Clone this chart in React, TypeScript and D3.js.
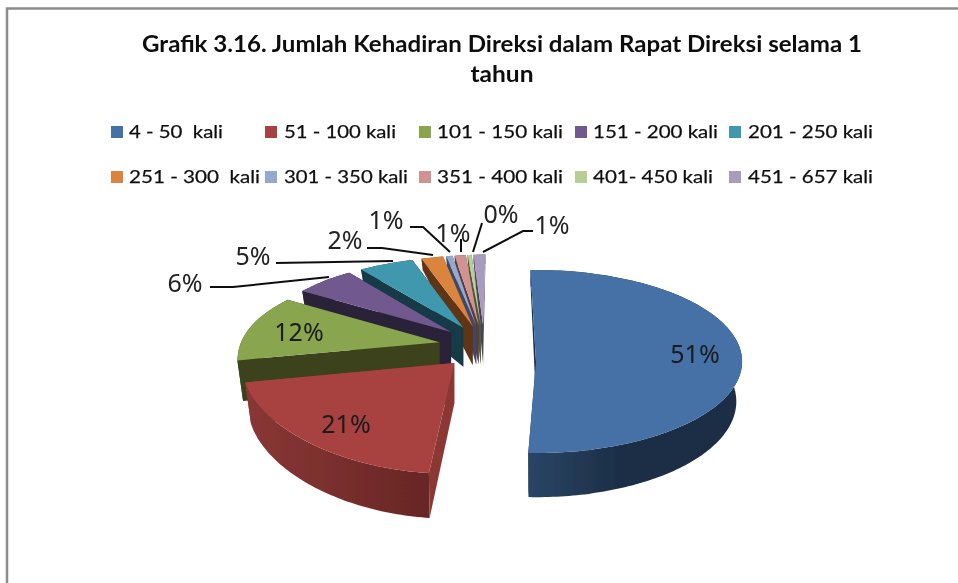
import React from "react";
import * as d3 from "d3";

const categories = ["4 - 50  kali", "51 - 100 kali", "101 - 150 kali", "151 - 200 kali", "201 - 250 kali", "251 - 300  kali", "301 - 350 kali", "351 - 400 kali", "401- 450 kali", "451 - 657 kali"];
const shares = [51, 21.3, 11.7, 5.7, 5, 2, 0.6, 1.1, 0.4, 1.2];
const faceColors = ["#4571a7", "#a84341", "#89a54d", "#71588f", "#4198af", "#db843d", "#93a9cf", "#d19392", "#b9cd96", "#a99bbd"];
const wallColors = ["#1b2e47", "#8b3836", "#3a421f", "#2c2239", "#153a46", "#5e3515", "#3d4a66", "#5c3a39", "#4e5a34", "#4a3f5c"];
const rimLight = ["#2a4565", "#8a3735", "#3f4a22", "#3f3256", "#1f5361", "#8a4f1f", "#4f6080", "#7a4a49", "#6c7a49", "#5f5078"];
const rimDark = ["#1b2d45", "#682625", "#3a421f", "#2c2239", "#153a46", "#5e3515", "#3d4a66", "#5c3a39", "#4e5a34", "#4a3f5c"];
const title = ["Grafik 3.16. Jumlah Kehadiran Direksi dalam Rapat Direksi selama 1", "tahun"];

const legendSwatchX = [111, 265, 419, 575, 729];
const legendTextX = [129, 284, 437, 593, 748];
const legendTextW = [94, 112, 126, 125, 125, 131, 124, 126, 120, 125];
const startTrimDeg = [0, 4.2, 0, 0, 0, 0, 0, 0, 0, 0];

const C = { x: 486, y: 346, R: 210, ry: 91.5, k: 0.155, explode: 0.238, blueY: 361.5, blueRight: 0.985, wallShrink: 0.972 };
const depth = d3.scaleLinear().domain([-1.25, -0.25, 1.2]).range([9, 39, 45]).clamp(true);
const xScaleLeft = d3.scaleLinear().domain([-1.25, -1.15, -1, -0.7, 0.1, 0.37, 1.2]).range([0.74, 0.8, 0.83, 0.85, 0.965, 1.01, 1.03]).clamp(true);
const xShift = d3.scaleLinear().domain([-1.25, -0.3]).range([6, 0]).clamp(true);

const project = (u: number, v: number, i: number) => {
  const fx = u < 0 ? xScaleLeft(v) : i === 0 ? (Math.abs(u) > 0.5 ? C.blueRight : 1) : xScaleLeft(v);
  return {
    x: C.x + C.R * u * fx + (i === 0 ? 0 : xShift(v)),
    y: i === 0 ? C.blueY + C.ry * v : C.y + C.ry * v * (1 + C.k * v),
    d: depth(v),
  };
};

const arcs = d3.pie<number>().sort(null).startAngle((-1.5 * Math.PI) / 180).endAngle((358.5 * Math.PI) / 180)(shares);

function slicePts(a: (typeof arcs)[number], i: number) {
  const mid = (a.startAngle + a.endAngle) / 2;
  const ou = C.explode * Math.sin(mid);
  const ov = -C.explode * Math.cos(mid);
  const s = a.startAngle + (startTrimDeg[i] * Math.PI) / 180;
  const n = Math.max(2, Math.ceil((a.endAngle - s) / 0.02));
  const angles = d3.range(n + 1).map((j) => s + ((a.endAngle - s) * j) / n);
  // blue's radial term is applied with the explode offset kept rigid
  const rim = angles.map((t) => project(ou + Math.sin(t), (i === 0 ? 0 : ov) - Math.cos(t), i));
  const apex = project(ou, i === 0 ? 0 : ov, i);
  return { rim, apex };
}

const line = d3.line<[number, number]>();
const closed = (pts: [number, number][]) => line(pts) + "Z";

type Leader = { i: number; pts: [number, number][]; lx: number; ly: number };
const leaders: Leader[] = [
  { i: 3, pts: [[210, 287], [233, 287], [329, 277]], lx: 185, ly: 283 },
  { i: 4, pts: [[276, 263], [393, 261]], lx: 253, ly: 256 },
  { i: 5, pts: [[367, 248], [382, 248], [433, 255]], lx: 345, ly: 240 },
  { i: 6, pts: [[410, 227], [423, 227], [450, 252]], lx: 386, ly: 220 },
  { i: 7, pts: [[461, 239], [461, 252]], lx: 453, ly: 233 },
  { i: 8, pts: [[482, 223], [473, 252]], lx: 501, ly: 214 },
  { i: 9, pts: [[533, 231], [523, 231], [483, 252]], lx: 552, ly: 225 },
];
const insideLabels = [
  { i: 0, lx: 695, ly: 354 },
  { i: 1, lx: 346, ly: 424 },
  { i: 2, lx: 299, ly: 332 },
];
const pct = (i: number) => `${Math.round(shares[i])}%`;

export default function App() {
  const order = d3.range(arcs.length).reverse();
  return (
    <svg width={958} height={583} style={{ position: "absolute", left: 0, top: 0 }} fontFamily="Lato">
      <defs>
        {arcs.map((a, i) => {
          const { rim } = slicePts(a, i);
          const [x0, x1] = d3.extent(rim.map((p) => p.x)) as [number, number];
          return (
            <linearGradient key={i} id={`rim${i}`} gradientUnits="userSpaceOnUse" x1={x0} x2={x1} y1={0} y2={0}>
              <stop offset="0" stopColor={i === 0 ? rimLight[i] : i === 1 ? rimLight[i] : rimLight[i]} />
              <stop offset={i === 0 ? "0.45" : "1"} stopColor={rimDark[i]} />
            </linearGradient>
          );
        })}
        <filter id="soft" x="-5%" y="-5%" width="110%" height="110%">
          <feGaussianBlur stdDeviation="0.45" />
        </filter>
      </defs>
      <rect width={958} height={583} fill="#fff" />
      <path d="M7,583V8.5H958" fill="none" stroke="#8c8c8c" strokeWidth={2.5} />

      <g filter="url(#soft)">
        {title.map((t, i) => (
          <text key={t} x={502} y={52 + i * 30} textAnchor="middle" fontSize={22} fontWeight={700} fill="#111"
            textLength={i === 0 ? 720 : 63} lengthAdjust="spacingAndGlyphs">{t}</text>
        ))}

        {categories.map((c, i) => {
          const row = i < 5 ? 0 : 1;
          const col = i % 5;
          const y = row === 0 ? 138 : 183;
          return (
            <g key={c}>
              <rect x={legendSwatchX[col]} y={y - 12} width={12} height={12} fill={faceColors[i]} />
              <text x={legendTextX[col]} y={y} fontSize={18} fill="#111" stroke="#111" strokeWidth={0.25}
                textLength={legendTextW[i]} lengthAdjust="spacingAndGlyphs" style={{ whiteSpace: "pre" }}>{c}</text>
            </g>
          );
        })}

        {order.map((i) => {
          const { rim, apex } = slicePts(arcs[i], i);
          const low = (p: { x: number; y: number; d: number }): [number, number] => [apex.x + (p.x - apex.x) * C.wallShrink, p.y + p.d];
          const first = rim[0];
          const last = rim[rim.length - 1];
          const face: [number, number][] = [[apex.x, apex.y], ...rim.map((p) => [p.x, p.y] as [number, number])];
          const outer: [number, number][] = [
            ...rim.map((p) => [p.x, p.y] as [number, number]),
            ...rim.slice().reverse().map(low),
          ];
          const startWall: [number, number][] = [[apex.x, apex.y], [first.x, first.y], low(first), [apex.x, apex.y + apex.d]];
          const endWall: [number, number][] = [[apex.x, apex.y], [last.x, last.y], low(last), [apex.x, apex.y + apex.d]];
          return (
            <g key={i}>
              <path d={closed(endWall)} fill={wallColors[i]} />
              <path d={closed(outer)} fill={`url(#rim${i})`} />
              <path d={closed(startWall)} fill={wallColors[i]} />
              <path d={closed(face)} fill={faceColors[i]} />
            </g>
          );
        })}

        {leaders.map((l) => (
          <g key={l.i}>
            <path d={line(l.pts) as string} fill="none" stroke="#111" strokeWidth={2} />
            <text x={l.lx} y={l.ly + 9} textAnchor="middle" fontSize={25} fill="#222" fontFamily="Noto Sans">{pct(l.i)}</text>
          </g>
        ))}
        {insideLabels.map((l) => (
          <text key={l.i} x={l.lx} y={l.ly + 9} textAnchor="middle" fontSize={25} fill="#1a1a1a" fontFamily="Noto Sans">{pct(l.i)}</text>
        ))}
      </g>
    </svg>
  );
}
